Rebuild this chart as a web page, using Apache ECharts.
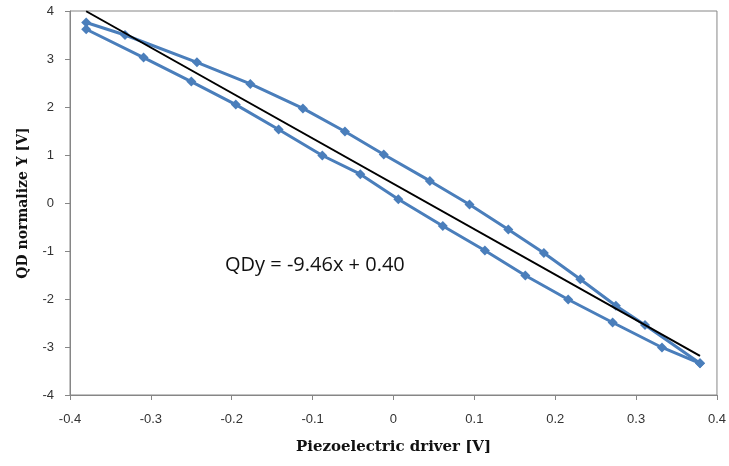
<!DOCTYPE html>
<html>
<head>
<meta charset="utf-8">
<script src="https://cdn.jsdelivr.net/npm/echarts@6/dist/echarts.min.js"></script>
<style>
  html, body { margin: 0; padding: 0; background: #fff; }
  #chart { width: 729px; height: 466px; }
</style>
</head>
<body>
<div id="chart"></div>
<script>
// Hysteresis loop of the QD signal against the piezo drive voltage
const upperX = [-0.380, -0.332, -0.243, -0.177, -0.112, -0.060, -0.012, 0.045, 0.094, 0.142, 0.186, 0.231, 0.275, 0.311, 0.379];
const upperY = [3.76, 3.50, 2.93, 2.48, 1.97, 1.49, 1.01, 0.46, -0.03, -0.55, -1.04, -1.59, -2.14, -2.54, -3.34];
const lowerX = [-0.380, -0.309, -0.250, -0.195, -0.142, -0.088, -0.041, 0.006, 0.061, 0.113, 0.163, 0.216, 0.271, 0.332, 0.379];
const lowerY = [3.62, 3.03, 2.53, 2.05, 1.53, 0.99, 0.60, 0.08, -0.48, -0.99, -1.51, -2.01, -2.49, -3.01, -3.34];

// Linear fit quoted on the chart
const fitSlope = -9.46;
const fitIntercept = 0.40;
const fitRange = [-0.380, 0.379];
const fitLabel = 'QDy = -9.46x + 0.40';

const xTicks = [-0.4, -0.3, -0.2, -0.1, 0, 0.1, 0.2, 0.3, 0.4];
const yTicks = [-4, -3, -2, -1, 0, 1, 2, 3, 4];

const pairs = (xs, ys) => xs.map((x, i) => [x, ys[i]]);
const fitLine = fitRange.map(x => [x, fitSlope * x + fitIntercept]);

const blue = '#4A7EBB';
const axisGray = '#868686';
const titleFont = { fontFamily: 'DejaVu Serif', fontWeight: 'bold', color: '#111' };
const tickFont = { fontFamily: 'Liberation Sans', fontSize: 13, color: '#333' };

const loopSeries = (data) => ({
  type: 'line',
  data: data,
  symbol: 'diamond',
  symbolSize: 10,
  lineStyle: { color: blue, width: 3 },
  itemStyle: { color: blue },
  z: 3
});

const chart = echarts.init(document.getElementById('chart'), null, { renderer: 'canvas' });
chart.setOption({
  animation: false,
  backgroundColor: '#fff',
  grid: {
    left: 70, right: 10, top: 11, bottom: 71,
    show: true, borderColor: axisGray, borderWidth: 1, backgroundColor: 'transparent'
  },
  xAxis: {
    type: 'value',
    min: xTicks[0], max: xTicks[xTicks.length - 1], interval: 0.1,
    name: 'Piezoelectric driver [V]',
    nameLocation: 'middle', nameGap: 45,
    nameTextStyle: Object.assign({ fontSize: 15 }, titleFont),
    axisLine: { show: true, onZero: false, lineStyle: { color: axisGray, width: 1 } },
    axisTick: { show: true, inside: false, length: 5, lineStyle: { color: axisGray } },
    splitLine: { show: false },
    axisLabel: Object.assign({
      margin: 18,
      formatter: v => (Math.round(v * 10) / 10).toString()
    }, tickFont)
  },
  yAxis: {
    type: 'value',
    min: yTicks[0], max: yTicks[yTicks.length - 1], interval: 1,
    name: 'QD normalize Y [V]',
    nameLocation: 'middle', nameGap: 40, nameRotate: 90,
    nameTextStyle: Object.assign({ fontSize: 14 }, titleFont),
    axisLine: { show: true, onZero: false, lineStyle: { color: axisGray, width: 1 } },
    axisTick: { show: true, inside: false, length: 5, lineStyle: { color: axisGray } },
    splitLine: { show: false },
    axisLabel: Object.assign({ margin: 16 }, tickFont)
  },
  series: [
    loopSeries(pairs(upperX, upperY)),
    loopSeries(pairs(lowerX, lowerY)),
    {
      type: 'line',
      data: fitLine,
      symbol: 'none',
      lineStyle: { color: '#000', width: 2 },
      z: 4
    }
  ],
  graphic: [
    {
      type: 'text',
      left: 225, top: 255,
      style: { text: fitLabel, fontFamily: 'Open Sans', fontSize: 20, fill: '#111' }
    }
  ]
});
</script>
</body>
</html>
